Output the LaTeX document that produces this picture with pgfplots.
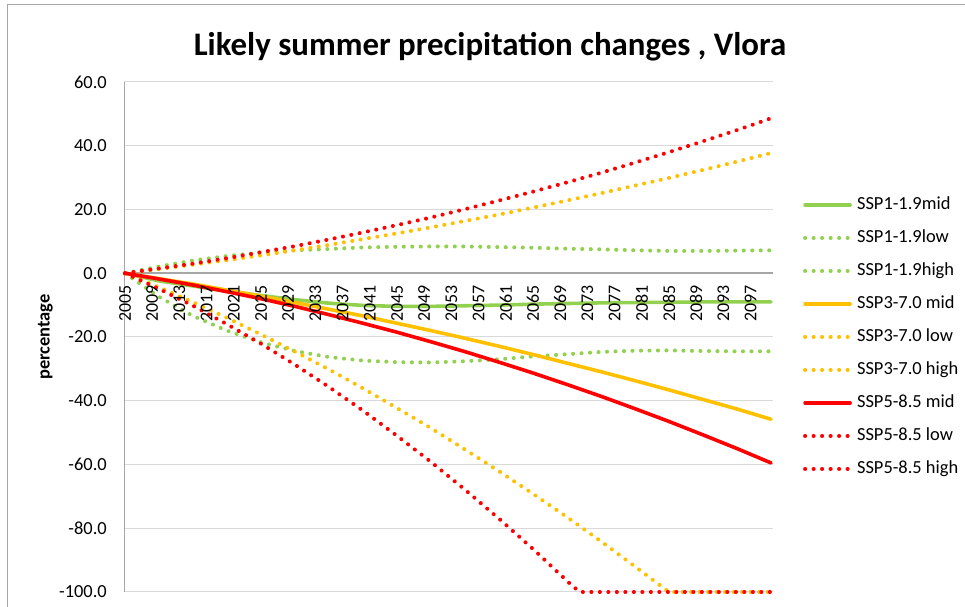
\documentclass[border=0pt]{standalone}
\usepackage{pgfplots}
\pgfplotsset{compat=1.18}
\usepackage{pgfplotstable}
\usepackage{fontspec}
\setmainfont{Carlito}
\definecolor{cgreen}{HTML}{92D050}
\definecolor{corange}{HTML}{FFC000}
\definecolor{cred}{HTML}{FF0000}
\definecolor{cgrid}{HTML}{D9D9D9}
\definecolor{caxis}{HTML}{A6A6A6}

% year, SSP1 mid/low/high, SSP3 mid/high, SSP5 mid/high
\pgfplotstableread{
year m1 l1 h1 m3 h3 m5 h5
2005 0 0 0 0 0 0 0
2010 -2.4 -7.4 2.1 -1.7 1.3 -1.8 1.5
2015 -4.0 -13.4 4.0 -3.4 2.7 -3.7 3.0
2020 -5.6 -18.0 5.4 -5.3 4.1 -5.8 4.7
2025 -7.0 -21.7 6.5 -7.2 5.6 -8.0 6.6
2030 -8.3 -24.4 7.2 -9.2 7.2 -10.4 8.5
2035 -9.4 -26.3 7.6 -11.3 8.9 -13.0 10.6
2040 -10.1 -27.4 8.1 -13.4 10.7 -15.7 12.8
2045 -10.4 -27.9 8.3 -15.7 12.5 -18.5 15.1
2050 -10.4 -28.0 8.4 -18.0 14.4 -21.5 17.5
2055 -10.2 -27.6 8.4 -20.4 16.4 -24.6 20.1
2060 -10.0 -27.0 8.2 -22.9 18.4 -27.9 22.8
2065 -9.7 -26.1 8.0 -25.5 20.6 -31.3 25.6
2070 -9.5 -25.4 7.7 -28.2 22.8 -34.9 28.5
2075 -9.3 -24.7 7.5 -30.9 25.1 -38.6 31.5
2080 -9.2 -24.3 7.2 -33.7 27.5 -42.5 34.7
2085 -9.1 -24.2 7.0 -36.6 29.9 -46.5 38.0
2090 -9.0 -24.4 7.0 -39.6 32.4 -50.7 41.4
2095 -9.0 -24.5 7.1 -42.6 35.0 -55.0 44.9
2100 -9.0 -24.5 7.2 -45.8 37.7 -59.5 48.6
}\maindata

\pgfplotstableread{
year v
2005 0
2010 -4.4
2015 -9.1
2020 -14.0
2025 -19.2
2030 -24.6
2035 -30.2
2040 -36.1
2045 -42.3
2050 -48.6
2055 -55.3
2060 -62.1
2065 -69.2
2070 -76.5
2075 -84.1
2080 -92.0
2084 -98.4
2085 -100
2090 -100
2095 -100
2100 -100
}\lowthree

\pgfplotstableread{
year v
2005 0
2010 -4.9
2015 -10.2
2020 -16.0
2025 -22.1
2030 -28.7
2035 -35.7
2040 -43.1
2045 -51.0
2050 -59.2
2055 -67.9
2060 -77.0
2065 -86.5
2070 -96.5
2071 -98.5
2072 -100
2075 -100
2080 -100
2085 -100
2090 -100
2095 -100
2100 -100
}\lowfive

\pgfplotsset{
  common/.style={
    at={(124bp,15bp)}, anchor=south west,
    width=649bp, height=510bp, scale only axis,
    xmin=2004.85, xmax=2100.3, ymin=-100, ymax=60,
    hide obscured x ticks=false, hide obscured y ticks=false,
    /pgf/number format/assume math mode=true,
    major tick length=0pt,
    clip=false,
  }
}

\begin{document}
\begin{tikzpicture}[x=1bp,y=1bp]
\path[use as bounding box] (0,0) rectangle (965,607);
\draw[gray!70, line width=1bp] (7,0) -- (7,602) -- (965,602);
\node[font=\bfseries\fontsize{33}{38}\selectfont, anchor=base] at (490,551) {Likely summer precipitation changes , Vlora};
\begin{axis}[
  common,
  axis x line*=middle, axis y line*=left,
  x axis line style={draw=caxis, line width=1.6bp},
  y axis line style={draw=caxis, line width=1bp},
  xtick={2005,2009,...,2097}, xticklabels={},
  ytick={-100,-80,...,60},
  ymajorgrids, major grid style={draw=cgrid, line width=1bp},
  yticklabel style={font=\fontsize{18.5}{20}\selectfont, anchor=east, inner sep=0pt, /pgf/number format/.cd, fixed, fixed zerofill, precision=1},
  yticklabel shift=17bp,
  ylabel={percentage},
  ylabel style={font=\bfseries\fontsize{18.5}{20}\selectfont, at={(axis description cs:-0.121,0.5)}, anchor=center, rotate=0},
  legend style={draw=none, fill=none, inner sep=0pt, at={(axis description cs:1.046,0.776)}, anchor=north west,
    font=\fontsize{18.5}{20}\selectfont, row sep=16bp, column sep=5bp,
    nodes={inner sep=0pt, text height=13bp, text depth=4bp}},
  legend cell align=left,
  legend image code/.code={\draw[#1] (0bp,0bp) -- (45bp,0bp);},
  solid line/.style={line width=3.6bp, line cap=round},
  dot line/.style={line width=4bp, line cap=round, dash pattern=on 0.1bp off 8.4bp},
]
\addplot[cgreen, solid line] table[x=year, y=m1] {\maindata};
\addlegendentry{SSP1-1.9mid}
\addplot[cgreen, dot line] table[x=year, y=l1] {\maindata};
\addlegendentry{SSP1-1.9low}
\addplot[cgreen, dot line] table[x=year, y=h1] {\maindata};
\addlegendentry{SSP1-1.9high}
\addplot[corange, solid line] table[x=year, y=m3] {\maindata};
\addlegendentry{SSP3-7.0 mid}
\addplot[corange, dot line] table[x=year, y=v] {\lowthree};
\addlegendentry{SSP3-7.0 low}
\addplot[corange, dot line] table[x=year, y=h3] {\maindata};
\addlegendentry{SSP3-7.0 high}
\addplot[cred, solid line] table[x=year, y=m5] {\maindata};
\addlegendentry{SSP5-8.5 mid}
\addplot[cred, dot line] table[x=year, y=v] {\lowfive};
\addlegendentry{SSP5-8.5 low}
\addplot[cred, dot line] table[x=year, y=h5] {\maindata};
\addlegendentry{SSP5-8.5 high}
\end{axis}
\begin{axis}[
  common,
  axis x line*=middle, axis y line=none,
  x axis line style={draw=none},
  ytick=\empty,
  xtick={2005,2009,...,2097},
  xticklabel style={font=\fontsize{18}{20}\selectfont, rotate=90, anchor=east, inner sep=0pt, /pgf/number format/1000 sep={}},
  xticklabel shift=12bp,
]
\end{axis}
\end{tikzpicture}
\end{document}
